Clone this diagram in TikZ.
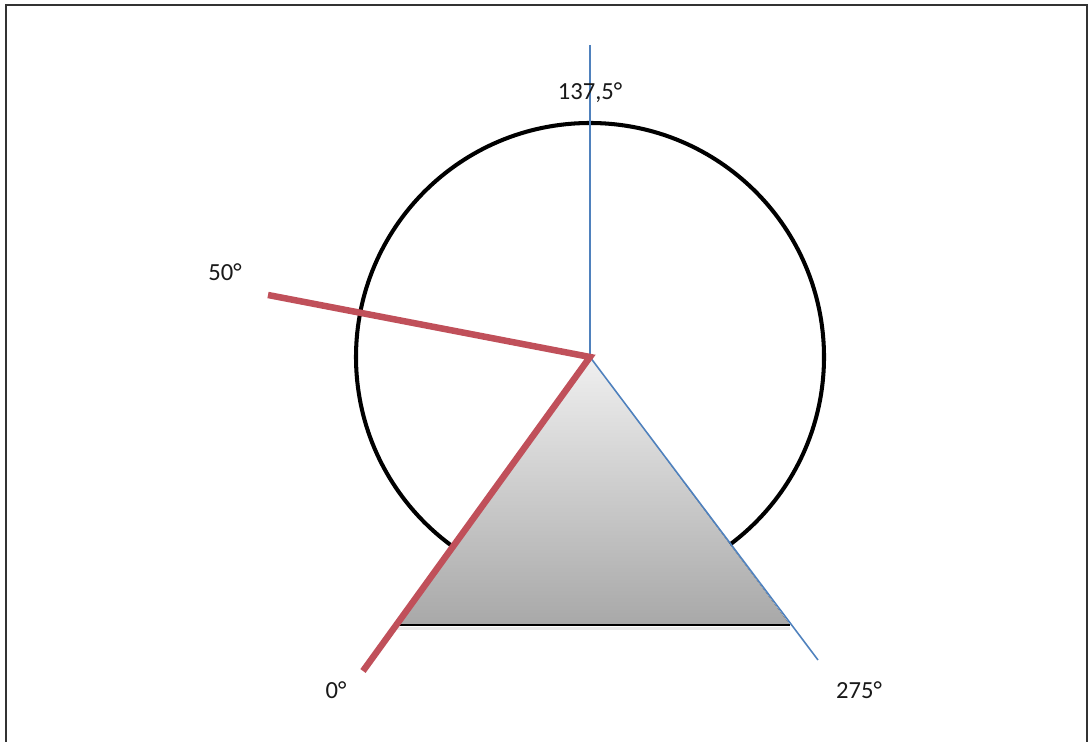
\documentclass[tikz,border=0pt]{standalone}
\usepackage{fontspec}
\setmainfont{Carlito}
\begin{document}
\begin{tikzpicture}[x=0.02cm,y=-0.02cm,
  lbl/.style={font=\fontsize{14}{16}\selectfont, text=black!90, inner sep=0pt},
  redline/.style={draw={rgb,255:red,192;green,80;blue,90}, line width=3.7pt, line join=miter},
  blueline/.style={draw={rgb,255:red,79;green,129;blue,189}, line width=0.9pt},
  framestyle/.style={draw=black!80, line width=1.2pt}]
\useasboundingbox (0,0) rectangle (1088,742);
% frame (left, top, right)
\draw[framestyle] (6,742) -- (6,5) -- (1087,5) -- (1087,742);
% coordinates
\coordinate (C) at (590,357);
\coordinate (Top) at (590,45);
\coordinate (R50) at (268,295);
\coordinate (R0) at (363,671);
\coordinate (B275) at (818,660);
\coordinate (TL) at (396,625);
\coordinate (TR) at (790,625);
% circle
\draw[black, line width=2.3pt] (C) circle[radius=234];
% triangle with gradient
\fill[top color=black!6, bottom color=black!34] (C) -- (TL) -- (TR) -- cycle;
\draw[black!8, line width=2pt] ([yshift=-2]TL) -- ([yshift=-2]TR);
\draw[black, line width=1.5pt] (TL) -- (TR);
% blue lines
\draw[blueline] (Top) -- (C);
\draw[blueline] (C) -- (B275);
% red polyline
\draw[redline] (R50) -- (C) -- (R0);
% labels
\node[lbl] (l137) at (590,93) {137,5°};
\node[lbl] (l50) at (225,272) {50°};
\node[lbl] (l0) at (336,690) {0°};
\node[lbl] (l275) at (859,690) {275°};
\end{tikzpicture}
\end{document}
